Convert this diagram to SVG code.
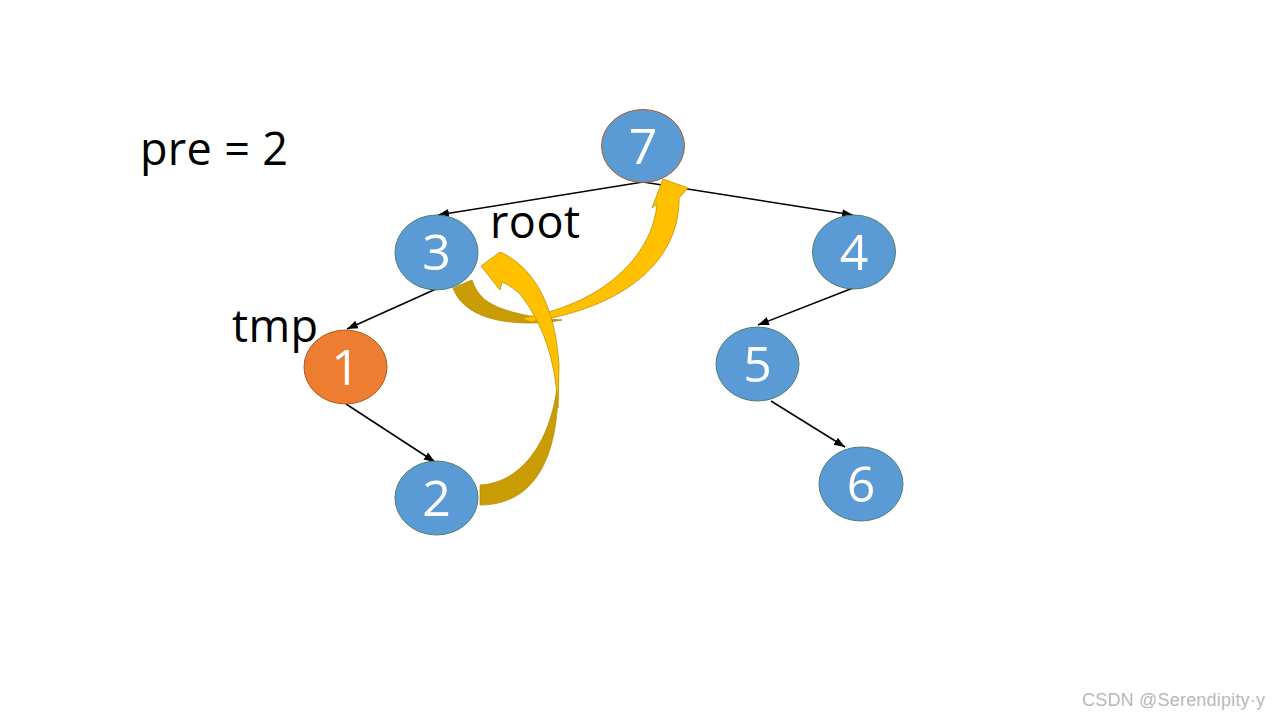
<svg xmlns="http://www.w3.org/2000/svg" width="1280" height="720" viewBox="0 0 1280 720">
<style>
.node-blue{fill:#5b9bd5;stroke:#507e72;stroke-width:1}
.node-orange{fill:#ed7d31;stroke:#ae5a21;stroke-width:1}
.lbl{font-family:"Open Sans","Liberation Sans",sans-serif;font-size:50px;fill:#ffffff;text-anchor:middle}
.txt{font-family:"Open Sans","Liberation Sans",sans-serif;font-size:45px;fill:#000000}
.edge{stroke:#000000;stroke-width:1.5;fill:none;marker-end:url(#ah)}
.dark{fill:#c99c04;stroke:#b88d00;stroke-width:0.8}
.light{fill:#ffc000;stroke:#bf9000;stroke-width:0.8}
</style>
<defs>
<marker id="ah" markerUnits="userSpaceOnUse" markerWidth="12" markerHeight="10" refX="11" refY="5" orient="auto">
<path d="M0,0.8 L11,5 L0,9.2 Z" fill="#000000"/>
</marker>
</defs>
<rect width="1280" height="720" fill="#ffffff"/>

<g id="connectors">
<line class="edge" x1="643" y1="182" x2="438" y2="215"/>
<line class="edge" x1="643" y1="182" x2="853" y2="215"/>
<line class="edge" x1="436" y1="289" x2="347" y2="329"/>
<line class="edge" x1="853" y1="288" x2="758" y2="325"/>
<line class="edge" x1="346" y1="404" x2="435" y2="462"/>
<line class="edge" x1="771" y1="401" x2="845" y2="447"/>
</g>

<g id="arrow-3-to-7">
<path class="dark" d="M453,288 C462,312 490,323 530,323 C542,323 552,322 562,320 C535,318 498,312 483,298 C477,292 474,286 472,280 Z"/>
<path class="light" d="M522,318 C600,305 652,258 657,204 L652,208 L663,179 L688,188 L679,198 C680,250 640,305 530,322 Z"/>
</g>

<g id="arrow-2-to-3">
<path class="dark" d="M480,505 C530,505 560,465 558,378 C553,440 522,483 480,485 Z"/>
<path class="light" d="M481,266 L500,252 C530,265 555,300 559,365 L558,408 C556,370 548,330 520,294 C512,287 507,284 502,282 L500,290 Z"/>
</g>

<g id="node-7">
<ellipse cx="643" cy="146" rx="41.5" ry="36.5" fill="#5b9bd5" stroke="#ae5a21" stroke-width="1"/>
<text class="lbl" x="643" y="164">7</text>
</g>
<g id="node-3">
<ellipse class="node-blue" cx="436.5" cy="252.5" rx="41.5" ry="37.5"/>
<text class="lbl" x="436.5" y="270">3</text>
</g>
<g id="node-4">
<ellipse class="node-blue" cx="854" cy="252" rx="41.5" ry="37"/>
<text class="lbl" x="854" y="270">4</text>
</g>
<g id="node-1">
<ellipse class="node-orange" cx="345.5" cy="367" rx="41.5" ry="37"/>
<text class="lbl" x="345.5" y="385">1</text>
</g>
<g id="node-5">
<ellipse class="node-blue" cx="757.5" cy="364" rx="41.5" ry="37"/>
<text class="lbl" x="757.5" y="382">5</text>
</g>
<g id="node-2">
<ellipse class="node-blue" cx="436.5" cy="498" rx="41.5" ry="37"/>
<text class="lbl" x="436.5" y="516">2</text>
</g>
<g id="node-6">
<ellipse class="node-blue" cx="861" cy="484" rx="42" ry="37"/>
<text class="lbl" x="861" y="502">6</text>
</g>

<g id="labels">
<text class="txt" x="140" y="165" textLength="148">pre = 2</text>
<text class="txt" x="490" y="238" textLength="90">root</text>
<text class="txt" x="232" y="342" textLength="86">tmp</text>
</g>
<text x="1082" y="706" font-family="Liberation Sans, Arial, sans-serif" font-size="18" fill="#b8b8b8" textLength="183">CSDN @Serendipity·y</text>
</svg>
